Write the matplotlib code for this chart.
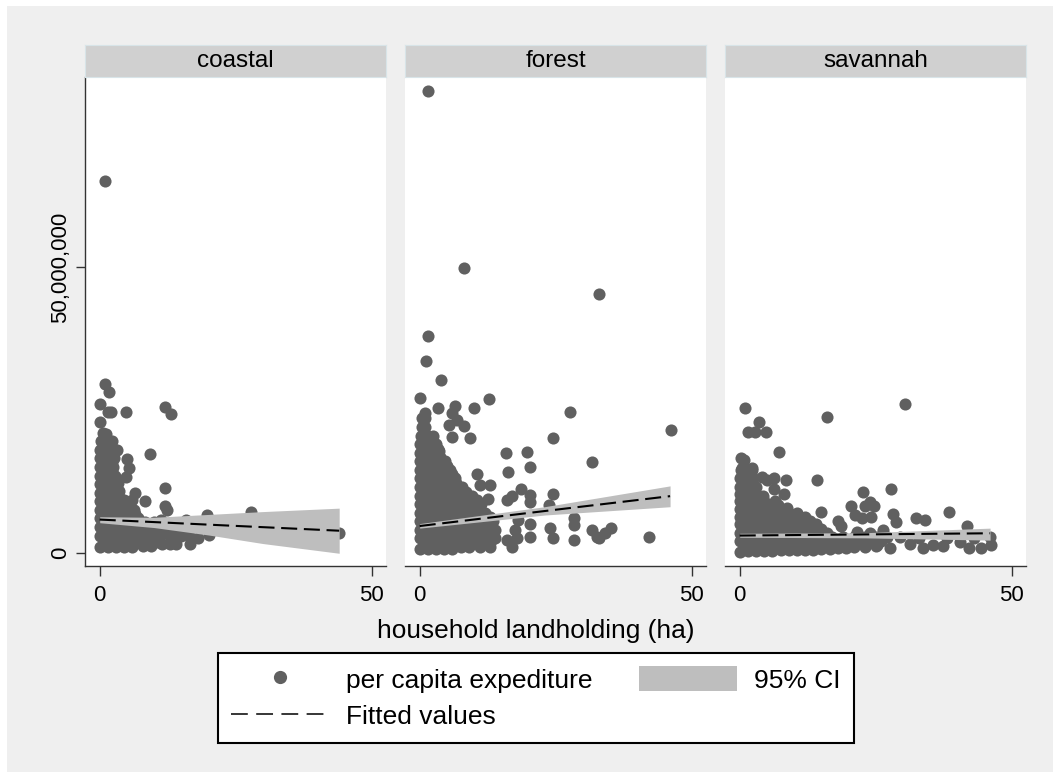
import numpy as np
import matplotlib
matplotlib.use("Agg")
import matplotlib.pyplot as plt
from matplotlib.lines import Line2D
from matplotlib.patches import Patch, Rectangle
from matplotlib.ticker import FuncFormatter

plt.rcParams['font.family'] = ['Liberation Sans', 'DejaVu Sans']

W, H = 1053, 772

regions = ["coastal", "forest", "savannah"]
xticks = [0, 50]
yticks = [0, 50000000]
x_label = "household landholding (ha)"
legend_labels = ["per capita expediture", "Fitted values", "95% CI"]

# (landholding ha, expenditure in millions)
coastal_pts = [
    (0.9, 65.1), (1.0, 29.5), (1.65, 28.1), (0, 26), (1.5, 24.7), (2.1, 24.7), (4.8, 24.7),
    (12, 25.6), (13.1, 24.2), (0, 22.8), (9.2, 17.2), (5.1, 16.4), (5.3, 14.8), (4.8, 13.3),
    (12, 11.4), (12, 8.2), (12.3, 7.5), (6.4, 10.5), (8.4, 9), (4.9, 8.3), (6.3, 7.5),
    (44, 3.5), (27.8, 7.2), (19.7, 6.6), (15.9, 5.7), (11.3, 5.7), (20, 3.1), (16.5, 2.8),
    (18, 2.5),
    (0, 1), (1.5, 1), (3, 1), (4.5, 1), (6, 1), (8, 1.2), (9.5, 1.2), (11.5, 1.6), (13, 1.6),
    (14, 1.6), (16.5, 1.6),
    (0, 3), (1.5, 3), (3, 3), (4.5, 3), (6, 3), (7.5, 3), (9, 3), (11, 3), (13, 3), (15, 3),
    (0, 4.5), (1.5, 4.5), (3, 4.5), (4.5, 4.5), (6, 4.5), (7.5, 4.5), (9, 4.5), (11, 4.5),
    (0, 6), (1.5, 6), (3, 6), (4.5, 6), (6, 6), (7, 6),
    (0, 7.5), (1.5, 7.5), (3, 7.5), (4.5, 7.5), (0, 9), (1.5, 9), (3, 9), (4.5, 9.2), (6, 9.2),
    (0, 10.5), (1.5, 10.5), (3, 10.5), (3.6, 10.8), (0, 12), (1.5, 12), (3, 12), (3.4, 12.2),
    (0, 13.5), (1.5, 13.5), (2.9, 13.5), (0, 15), (1.5, 15), (2.5, 15),
    (0, 16.5), (1.5, 16.5), (2.7, 16.5), (0, 18), (1.5, 18), (2.5, 18), (3.1, 18),
    (0.3, 19.5), (1.5, 19.5), (2.3, 19.5), (0.6, 21), (1.2, 20.8),
    # inside the dense part
    (0.75, 1.8), (2.25, 1.8), (3.75, 1.8), (5.25, 1.8), (6.75, 1.8), (8.25, 1.8), (9.5, 1.8), (10.5, 1.8),
    (0.75, 3.8), (2.25, 3.8), (3.75, 3.8), (5.25, 3.8), (6.75, 3.8), (8.25, 3.8), (10, 3.8), (12, 3.8),
    (14, 3.8), (16, 3.8), (13, 4.5), (15, 4),
    (0.75, 5.3), (2.25, 5.3), (3.75, 5.3), (5.25, 5.3), (6.75, 5.3), (8.25, 5.3), (10, 5.3),
    (0.75, 6.8), (2.25, 6.8), (3.75, 6.8), (5.25, 6.8), (6.5, 6.8),
    (0.75, 8.3), (2.25, 8.3), (3.75, 8.3), (0.75, 9.8), (2.25, 9.8), (3.5, 9.8),
    (0.75, 11.3), (2.25, 11.3), (0.75, 12.8), (2.25, 12.8), (0.75, 14.3), (2.25, 14.3),
    (0.75, 15.8), (2.25, 15.8), (0.75, 17.3), (2.25, 17.3), (0.75, 18.8), (2.1, 18.8),
]
forest_pts = [
    (1.6, 80.9), (8.1, 49.8), (33, 45.3), (1.6, 37.9), (1.2, 33.5), (4, 30.3), (0, 27.1),
    (12.8, 26.9), (10, 25.4), (3.3, 25.4), (6.5, 25.7), (6, 24.4), (1, 24.4), (27.6, 24.7),
    (6.8, 23.2), (5.3, 22.4), (8.2, 22.2), (46.1, 21.4), (6, 20.3), (9.3, 20), (24.4, 20.1),
    (15.9, 17.4), (19.8, 17.7), (20.2, 15), (16.2, 14.1), (31.6, 15.9), (10.5, 13.8),
    (11.1, 11.9), (12.9, 11.9), (12.5, 9.4), (18.6, 11.2), (20.3, 10.1), (16.9, 10), (16, 9.2),
    (20.3, 8.8), (24.4, 10.3), (23.7, 8.3), (28.3, 6), (28.3, 4.8), (28.3, 2.3), (24.4, 2.5),
    (23.9, 4.3), (20.3, 5.1), (20.3, 2.8), (18.1, 5.7), (17.5, 4), (17.8, 2.5), (16, 2.2),
    (16.9, 1), (31.6, 4), (33, 2.5), (34, 3.4), (35.2, 4.3), (32.5, 2.8), (42.1, 2.7),
    (0, 0.7), (1.5, 0.7), (3, 0.7), (4.5, 0.7), (6, 0.7), (7.5, 1), (9, 1), (11, 1), (13, 1),
    (0, 2.5), (2, 2.5), (4, 2.5), (6, 2.5), (8, 2.5), (10, 2.5), (12, 2.5), (13.8, 2.5),
    (0, 4), (2, 4), (4, 4), (6, 4), (8, 4), (10, 4), (12, 4), (13.8, 4),
    (0, 5.5), (2, 5.5), (4, 5.5), (6, 5.5), (8, 5.5), (10, 5.5), (12, 5.5), (13.5, 5.5),
    (0, 7), (2, 7), (4, 7), (6, 7), (8, 7), (10, 7), (12, 7),
    (0, 8.5), (2, 8.5), (4, 8.5), (6, 8.5), (8, 8.5), (10, 8.5), (11.3, 8.5),
    (0, 10), (2, 10), (4, 10), (6, 10), (8, 10), (9.7, 10),
    (0, 11.5), (1.5, 11.5), (3, 11.5), (4.5, 11.5), (6, 11.5), (7.7, 11.5),
    (0, 13), (1.5, 13), (3, 13), (4.5, 13), (6.5, 13),
    (0, 14.5), (1.5, 14.5), (3, 14.5), (4.5, 14.5), (5.6, 14.5),
    (0, 16), (1.5, 16), (3, 16), (4.6, 16),
    (0, 17.5), (1.5, 17.5), (3, 17.5), (3.6, 17.8), (0, 19), (1.5, 19), (3, 19),
    (0.3, 20.5), (1.5, 20.5), (2.5, 20.5), (0.5, 22), (1, 22), (0.5, 23.5), (1, 23.5),
    # inside the dense part
    (1, 1.7), (3, 1.7), (5, 1.7), (7, 1.7), (9, 1.7), (11, 1.7), (13, 1.7),
    (1, 3.2), (3, 3.2), (5, 3.2), (7, 3.2), (9, 3.2), (11, 3.2), (13, 3.2),
    (1, 4.7), (3, 4.7), (5, 4.7), (7, 4.7), (9, 4.7), (11, 4.7), (13, 4.7),
    (1, 6.2), (3, 6.2), (5, 6.2), (7, 6.2), (9, 6.2), (11, 6.2), (13, 6.2),
    (1, 7.7), (3, 7.7), (5, 7.7), (7, 7.7), (9, 7.7), (11, 7.7),
    (1, 9.2), (3, 9.2), (5, 9.2), (7, 9.2), (9, 9.2), (10.5, 9.2),
    (1, 10.7), (3, 10.7), (5, 10.7), (7, 10.7), (8.5, 10.7),
    (0.75, 12.2), (2.25, 12.2), (3.75, 12.2), (5.25, 12.2), (6.75, 12.2),
    (0.75, 13.7), (2.25, 13.7), (3.75, 13.7), (5.25, 13.7), (6, 13.7),
    (0.75, 15.2), (2.25, 15.2), (3.75, 15.2), (5, 15.2),
    (0.75, 16.7), (2.25, 16.7), (3.75, 16.7), (0.75, 18.2), (2.25, 18.2), (3.3, 18.2),
    (0.75, 19.7), (2.25, 19.7),
]
savannah_pts = [
    (0.9, 25.4), (3.5, 22.8), (1.5, 21.1), (2.8, 21.1), (4.8, 21.1), (7.3, 17.7), (16.1, 23.8),
    (30.4, 26), (0.3, 16.5), (0.8, 16.3), (2.3, 14.8), (0.5, 14.8), (4.1, 13.2), (5, 12.7),
    (6.3, 13.1), (8.5, 12.8), (14.2, 12.8), (6.3, 11.1), (8.1, 10.2), (14.9, 7.2), (22.6, 10.6),
    (27.8, 11.2), (20.4, 8.2), (23.9, 8.9), (24.7, 8.1), (23, 8.1), (21.2, 6.6), (22.4, 6),
    (24.2, 6.2), (28.2, 6.7), (28.8, 5.3), (18.1, 5.5), (18.6, 4.6), (32.3, 6.1), (34.1, 5.7),
    (38.4, 7.2), (41.7, 4.7), (31.2, 1.6), (33.7, 0.8), (35.5, 1.3), (37.3, 1.2), (40.4, 1.8),
    (42.2, 0.8), (44.3, 0.8), (46.2, 1.3), (45.9, 2.8), (29.4, 2.8), (27.6, 0.8), (25.2, 1.3),
    (26.4, 4), (21.5, 3.7), (43, 2.5), (38, 2.5), (33, 2.5),
    (0, 0.2), (1.5, 0.3), (3, 0.3), (4.5, 0.3), (6, 0.3), (7.5, 0.4), (9, 0.4), (10.5, 0.4),
    (12, 0.4), (13.5, 0.4), (15, 0.7), (16.5, 0.7), (18, 0.8), (19.5, 0.8), (21, 1), (23, 1),
    (0, 2), (2, 2), (4, 2), (6, 2), (8, 2), (10, 2), (12, 2), (14, 2), (16, 2), (18, 2), (20, 2),
    (22, 2), (24, 2), (26, 2),
    (0, 3.5), (1.6, 3.5), (3.2, 3.5), (4.8, 3.5), (6.4, 3.5), (8, 3.5), (9.6, 3.5), (11.2, 3.5),
    (12.8, 3.5), (14.4, 3.5), (16, 3.5), (24, 3.5),
    (0, 5), (2, 5), (4, 5), (6, 5), (8, 5), (10, 5), (12, 5), (14, 5),
    (0, 6.3), (2, 6.3), (4, 6.3), (6, 6.3), (8, 6.3), (10, 6.3), (12, 6.3),
    (0, 7.6), (2, 7.6), (4, 7.6), (6, 7.6), (8.7, 7.8), (10.5, 7),
    (0, 9), (1.5, 9), (3, 9), (4.5, 9), (6.5, 9), (0, 10.2), (1.5, 10.2), (3, 10.2), (4.2, 10),
    (0, 11.5), (1.5, 11.5), (3, 11.5), (0, 13), (1.3, 13), (2.5, 13),
    (0.2, 14.5), (1.5, 14.5), (2.3, 14.5),
    # inside the dense part
    (1, 1.2), (3, 1.2), (5, 1.2), (7, 1.2), (9, 1.2), (11, 1.2), (13, 1.2), (15, 1.2), (17, 1.2),
    (19, 1.2), (21, 1.2), (23, 1.2), (25, 1.2),
    (1, 2.7), (3, 2.7), (5, 2.7), (7, 2.7), (9, 2.7), (11, 2.7), (13, 2.7), (15, 2.7), (17, 2.7),
    (19, 2.7), (21, 2.7), (22, 2.7), (23, 2.7), (25, 2.7), (27, 2.7),
    (1, 4.2), (3, 4.2), (5, 4.2), (7, 4.2), (9, 4.2), (11, 4.2), (13, 4.2), (15, 4.2),
    (1, 5.6), (3, 5.6), (5, 5.6), (7, 5.6), (9, 5.6), (11, 5.6), (13, 5.6),
    (1, 7), (3, 7), (5, 7), (7, 7), (9, 7),
    (0.75, 8.3), (2.25, 8.3), (3.75, 8.3), (5.25, 8.3), (7, 8.3),
    (0.75, 9.6), (2.25, 9.6), (3.75, 9.6), (0.75, 10.9), (2.25, 10.9),
    (0.65, 12.2), (1.95, 12.2), (0.65, 13.8), (1.95, 13.8),
]
panel_pts = [coastal_pts, forest_pts, savannah_pts]

# fitted line and CI band, millions
coastal_fit_x = [0, 10, 20, 30, 44]
coastal_fit = [5.8, 5.36, 4.91, 4.47, 3.85]
coastal_hi = [6.3, 6.2, 6.7, 7.2, 7.8]
coastal_lo = [5.25, 4.4, 3.1, 1.6, -0.1]
forest_fit_x = [0, 23, 46]
forest_fit = [4.67, 7.3, 9.9]
forest_hi = [5.1, 8.06, 11.7]
forest_lo = [4.3, 6.6, 8.05]
savannah_fit_x = [0, 23, 46]
savannah_fit = [3.0, 3.2, 3.4]
savannah_hi = [3.4, 3.5, 4.3]
savannah_lo = [2.7, 2.6, 2.2]

panel_fit = [
    (coastal_fit_x, coastal_fit, coastal_hi, coastal_lo),
    (forest_fit_x, forest_fit, forest_hi, forest_lo),
    (savannah_fit_x, savannah_fit, savannah_hi, savannah_lo),
]

BG = "#efefef"
DOT = "#606060"
BAND = "#bebebe"
DASH = (0, (7.7, 3.2))


def rect(left, top, right, bottom):
    # pixel box to figure fractions
    return [left / W, 1 - bottom / H, (right - left) / W, (bottom - top) / H]


fig = plt.figure(figsize=(W / 100, H / 100), dpi=100, facecolor="white")
fig.add_artist(Rectangle((7 / W, 0), (W - 7) / W, (H - 6) / H, transform=fig.transFigure,
                         facecolor=BG, edgecolor="none", zorder=-5))

lefts = [85, 405, 725]
for i, name in enumerate(regions):
    left = lefts[i]
    ax = fig.add_axes(rect(left, 77, left + 301, 566))
    ax.set_facecolor("white")
    pts = np.array(panel_pts[i])
    ax.scatter(pts[:, 0], pts[:, 1] * 1e6, s=76, color=DOT, linewidths=0, zorder=2)
    fx, fy, hi, lo = panel_fit[i]
    ax.fill_between(fx, np.array(lo) * 1e6, np.array(hi) * 1e6, color=BAND, linewidth=0, zorder=3)
    ax.plot(fx, np.array(fy) * 1e6, color="black", lw=1.5, linestyle=DASH, zorder=4)
    ax.set_xlim(-2.7, 52.6)
    ax.set_ylim(-2.33e6, 83.3e6)
    ax.set_xticks(xticks)
    ax.set_yticks(yticks)
    ax.yaxis.set_major_formatter(FuncFormatter(lambda v, p: f"{v:,.0f}"))
    ax.tick_params(axis="x", length=7, width=1, color="#333333", labelsize=16, pad=7)
    ax.tick_params(axis="y", length=6.5, width=1, color="#333333", labelsize=16, pad=3.5)
    for lab in ax.get_yticklabels():
        lab.set_rotation(90)
        lab.set_va("center")
    for side in ["top", "right"]:
        ax.spines[side].set_visible(False)
    for side in ["left", "bottom"]:
        ax.spines[side].set_color("#333333")
        ax.spines[side].set_linewidth(1)
    if i > 0:
        ax.spines["left"].set_visible(False)
        ax.tick_params(axis="y", left=False, labelleft=False)

    strip = fig.add_axes(rect(left, 45, left + 301, 77))
    strip.set_facecolor("#d0d0d0")
    strip.set_xticks([])
    strip.set_yticks([])
    for s in strip.spines.values():
        s.set_color("#d8e4e8")
        s.set_linewidth(0.8)
    strip.text(0.5, 0.5, name, ha="center", va="center", fontsize=17.5, color="black",
               transform=strip.transAxes)

fig.text(535.6 / W, 1 - 631 / H, x_label, ha="center", va="center", fontsize=18.9, color="black")

handles = [
    Line2D([], [], linestyle="none", marker="o", markersize=9.5, color=DOT, markeredgewidth=0),
    Line2D([], [], color="black", lw=1.1, linestyle=(0, (11, 5.5))),
    Patch(facecolor=BAND, edgecolor="none"),
]
leg = fig.legend(handles, legend_labels, ncol=2, fontsize=19, loc="upper left",
                 bbox_to_anchor=(218 / W, 1 - 653 / H), bbox_transform=fig.transFigure,
                 borderaxespad=0, frameon=True, fancybox=False, framealpha=1,
                 edgecolor="black", facecolor="white", handlelength=3.73, handleheight=1.06,
                 handletextpad=0.63, columnspacing=1.75, labelspacing=0.4, borderpad=0.5)
leg.get_frame().set_linewidth(1.5)

fig.savefig("out.png", dpi=100, facecolor=fig.get_facecolor())
